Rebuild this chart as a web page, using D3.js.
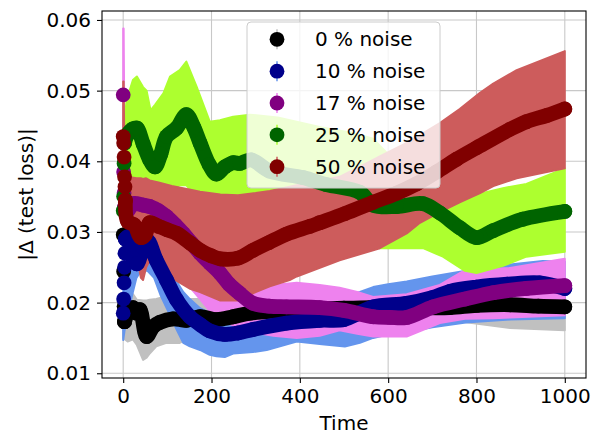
<!DOCTYPE html>
<meta charset="utf-8" />
<script src="https://cdn.jsdelivr.net/npm/d3@7"></script>
<style>
  body { margin: 0; background: #fff; }
  text { font-family: 'DejaVu Sans', sans-serif; fill: #000; }
</style>
<div id="chart"></div>
<script>
  // ---- data ----
  const ticksX = [0, 200, 400, 600, 800, 1000];
  const ticksY = [0.01, 0.02, 0.03, 0.04, 0.05, 0.06];
  const labels = ['0 % noise', '10 % noise', '17 % noise', '25 % noise', '50 % noise'];
  const markerColors = ['black', 'darkblue', 'purple', 'darkgreen', 'maroon'];
  const bandColors = ['silver', 'cornflowerblue', 'violet', 'greenyellow', 'indianred'];

  // first few noisy steps, drawn as single markers: [time, value]
  const dots0 = [[0, 0.0296], [1, 0.0244], [2, 0.0195], [3, 0.0173]];
  const dots1 = [[0, 0.0185], [1, 0.0205], [2, 0.0228], [3, 0.025], [4, 0.027], [5, 0.029]];
  const dots2 = [[0, 0.0494], [1, 0.0385], [2, 0.0355], [3, 0.0335]];
  const dots3 = [[0, 0.033], [1, 0.035], [2, 0.0397], [3, 0.0426]];
  const dots4 = [[0, 0.0435], [1, 0.0426], [2, 0.0406], [3, 0.0378], [4, 0.0364], [5, 0.0345]];

  // mean curves: [time, value]
  const mean0 = [[3, 0.0173], [10, 0.0185], [22, 0.0193], [31, 0.0185], [38, 0.019], [53, 0.0152], [68, 0.0166],
    [83, 0.0172], [113, 0.0177], [143, 0.0175], [174, 0.018], [211, 0.0176], [249, 0.018], [287, 0.0185],
    [350, 0.0188], [420, 0.019], [500, 0.0192], [560, 0.0193], [650, 0.0193], [740, 0.0193], [800, 0.0196],
    [876, 0.0197], [940, 0.0195], [1000, 0.0194]];
  const mean1 = [[5, 0.029], [10, 0.0293], [16, 0.028], [22, 0.0262], [31, 0.0255], [45, 0.0278], [55, 0.0288],
    [75, 0.026], [98, 0.0232], [121, 0.0204], [151, 0.018], [174, 0.0169], [196, 0.016], [230, 0.0155],
    [260, 0.0157], [294, 0.0162], [370, 0.0171], [445, 0.0175], [500, 0.0176], [530, 0.0184], [566, 0.0194],
    [642, 0.0199], [700, 0.0207], [740, 0.0216], [800, 0.0222], [870, 0.0226], [943, 0.0228], [1000, 0.022]];
  const mean2 = [[3, 0.0335], [10, 0.033], [22, 0.034], [45, 0.0338], [60, 0.0336], [80, 0.033], [98, 0.0322],
    [118, 0.031], [136, 0.0298], [155, 0.0284], [174, 0.027], [196, 0.0256], [219, 0.0242], [240, 0.0226],
    [264, 0.0213], [294, 0.0199], [330, 0.0195], [370, 0.0194], [445, 0.0193], [500, 0.0189], [566, 0.018],
    [604, 0.0179], [642, 0.0179], [702, 0.0194], [774, 0.0205], [838, 0.0214], [913, 0.022], [1000, 0.0224]];
  const mean3 = [[3, 0.0426], [10, 0.0438], [22, 0.0446], [31, 0.0447], [45, 0.0425], [60, 0.0402], [72, 0.0392],
    [85, 0.041], [98, 0.0435], [121, 0.0447], [143, 0.0466], [160, 0.0448], [174, 0.0426], [195, 0.0395],
    [211, 0.0382], [230, 0.0392], [249, 0.0398], [264, 0.0397], [290, 0.0402], [332, 0.0386], [407, 0.0377],
    [460, 0.0367], [536, 0.0356], [566, 0.0338], [619, 0.0336], [679, 0.034], [717, 0.0327], [762, 0.0306],
    [800, 0.0292], [838, 0.0302], [905, 0.0318], [1000, 0.0329]];
  const mean4 = [[5, 0.0345], [10, 0.0315], [25, 0.031], [40, 0.0292], [50, 0.0296], [60, 0.0313], [80, 0.0308],
    [100, 0.0303], [121, 0.0298], [150, 0.0285], [174, 0.0274], [200, 0.0266], [220, 0.0262], [260, 0.0263],
    [294, 0.0274], [330, 0.0285], [370, 0.0297], [423, 0.0308], [445, 0.0313], [502, 0.0326], [566, 0.0342],
    [620, 0.0355], [664, 0.0368], [710, 0.0385], [755, 0.0403], [800, 0.0419], [875, 0.0445], [913, 0.0456],
    [960, 0.0465], [1000, 0.0474]];

  // error bands: [time, low, high]
  const band0 = [[0, 0.015, 0.0205], [10, 0.0145, 0.021], [22, 0.0148, 0.0212], [31, 0.014, 0.0204],
    [45, 0.0119, 0.0203], [53, 0.0122, 0.0203], [60, 0.0128, 0.0204], [75, 0.0138, 0.0205], [98, 0.0143, 0.0209],
    [128, 0.0143, 0.0206], [150, 0.015, 0.0205], [200, 0.0155, 0.0205], [300, 0.016, 0.0208], [500, 0.0165, 0.021],
    [700, 0.0172, 0.0212], [755, 0.0174, 0.0213], [876, 0.0164, 0.0215], [1000, 0.0161, 0.0215]];
  const band1 = [[0, 0.0147, 0.021], [3, 0.016, 0.028], [10, 0.018, 0.031], [20, 0.021, 0.0295], [30, 0.0235, 0.029],
    [40, 0.0245, 0.0305], [55, 0.0245, 0.0312], [70, 0.0235, 0.029], [85, 0.021, 0.027], [100, 0.019, 0.0255],
    [121, 0.0162, 0.023], [136, 0.0143, 0.0215], [151, 0.0138, 0.0205], [174, 0.0133, 0.0192], [196, 0.0126, 0.0185],
    [211, 0.0124, 0.0183], [230, 0.0123, 0.0183], [249, 0.0128, 0.0185], [294, 0.013, 0.019], [325, 0.0133, 0.0193],
    [393, 0.0145, 0.0198], [450, 0.0141, 0.0202], [502, 0.0138, 0.0208], [536, 0.0143, 0.0215], [566, 0.015, 0.0222],
    [600, 0.0155, 0.0226], [642, 0.0158, 0.023], [700, 0.0165, 0.0237], [776, 0.0172, 0.0245], [876, 0.0176, 0.0254],
    [950, 0.0177, 0.0259], [1000, 0.0178, 0.0258]];
  const band2 = [[0, 0.035, 0.0588], [1, 0.035, 0.0588], [3, 0.026, 0.042], [10, 0.026, 0.038], [50, 0.028, 0.036],
    [100, 0.026, 0.0355], [115, 0.025, 0.0366], [128, 0.024, 0.0362], [140, 0.023, 0.034], [174, 0.0205, 0.031],
    [200, 0.0185, 0.029], [220, 0.0175, 0.027], [260, 0.0165, 0.0245], [294, 0.0158, 0.0232], [340, 0.0153, 0.0225],
    [393, 0.015, 0.0228], [445, 0.0153, 0.0225], [490, 0.0161, 0.0221], [530, 0.0156, 0.0215], [566, 0.0152, 0.0208],
    [642, 0.0152, 0.0212], [717, 0.0171, 0.0225], [774, 0.0177, 0.0246], [838, 0.0178, 0.0248], [876, 0.0179, 0.0249],
    [1000, 0.0182, 0.0262]];
  const band3 = [[0, 0.03, 0.04], [3, 0.031, 0.046], [8, 0.032, 0.0487], [22, 0.034, 0.0515], [31, 0.034, 0.052],
    [45, 0.034, 0.0505], [53, 0.034, 0.05], [62, 0.034, 0.0472], [72, 0.034, 0.048], [91, 0.035, 0.0496],
    [106, 0.036, 0.052], [128, 0.0366, 0.0529], [143, 0.0366, 0.0541], [166, 0.035, 0.0506], [196, 0.0325, 0.0456],
    [219, 0.0327, 0.0458], [249, 0.0327, 0.0463], [287, 0.0327, 0.0466], [350, 0.031, 0.0462], [400, 0.03, 0.0455],
    [450, 0.0295, 0.0448], [520, 0.029, 0.044], [566, 0.028, 0.0432], [581, 0.0277, 0.0422], [600, 0.0277, 0.041],
    [679, 0.0277, 0.04], [724, 0.0265, 0.0385], [774, 0.0245, 0.036], [800, 0.0242, 0.0353], [860, 0.0252, 0.0362],
    [913, 0.0265, 0.0368], [1000, 0.0272, 0.039]];
  const band4 = [[0, 0.03, 0.0513], [1, 0.03, 0.0513], [3, 0.029, 0.04], [10, 0.028, 0.0378], [30, 0.027, 0.0376],
    [40, 0.0235, 0.0376], [45, 0.0232, 0.0375], [52, 0.025, 0.0376], [60, 0.026, 0.0373], [80, 0.025, 0.037],
    [110, 0.0235, 0.0365], [150, 0.022, 0.036], [174, 0.0215, 0.0357], [220, 0.0203, 0.0353], [260, 0.0203, 0.0352],
    [300, 0.0215, 0.0355], [332, 0.0223, 0.0358], [377, 0.0232, 0.0364], [393, 0.0237, 0.0366], [490, 0.026, 0.0378],
    [566, 0.0274, 0.0402], [581, 0.0277, 0.0407], [642, 0.0298, 0.0426], [672, 0.0313, 0.0437], [717, 0.0328, 0.0454],
    [762, 0.0342, 0.0474], [808, 0.0355, 0.0497], [838, 0.0365, 0.051], [891, 0.0376, 0.0529], [1000, 0.039, 0.0556]];

  const dots = [dots0, dots1, dots2, dots3, dots4];
  const means = [mean0, mean1, mean2, mean3, mean4];
  const bands = [band0, band1, band2, band3, band4];

  // ---- layout ----
  const W = 594, H = 438;
  const plot = { left: 102, right: 586, top: 11, bottom: 378 };
  const markerR = 7.4;
  const fontSize = 20;

  const svg = d3.select('#chart').append('svg').attr('width', W).attr('height', H);

  const x = d3.scaleLinear().domain([-48, 1048]).range([plot.left, plot.right]);
  const y = d3.scaleLinear().domain([0.00933, 0.06127]).range([plot.bottom, plot.top]);

  svg.append('clipPath').attr('id', 'clip').append('rect')
    .attr('x', plot.left).attr('y', plot.top)
    .attr('width', plot.right - plot.left).attr('height', plot.bottom - plot.top);

  // grid
  const grid = svg.append('g');
  grid.selectAll('.gx').data(ticksX).join('line')
    .attr('x1', d => x(d)).attr('x2', d => x(d))
    .attr('y1', plot.top).attr('y2', plot.bottom)
    .attr('stroke', '#c8c8c8').attr('stroke-width', 1.1);
  grid.selectAll('.gy').data(ticksY).join('line')
    .attr('x1', plot.left).attr('x2', plot.right)
    .attr('y1', d => y(d)).attr('y2', d => y(d))
    .attr('stroke', '#c8c8c8').attr('stroke-width', 1.1);

  const data = svg.append('g').attr('clip-path', 'url(#clip)');

  // error bands first (all series), then the marker lines on top
  const area = d3.area().x(d => x(d[0])).y0(d => y(d[1])).y1(d => y(d[2]));
  bands.forEach((b, i) => {
    data.append('path').datum(b)
      .attr('d', area)
      .attr('fill', bandColors[i])
      .attr('stroke', bandColors[i])
      .attr('stroke-width', 2)
      .attr('stroke-linejoin', 'round');
  });

  const line = d3.line().x(d => x(d[0])).y(d => y(d[1])).curve(d3.curveCatmullRom);
  means.forEach((m, i) => {
    data.append('path').datum(m)
      .attr('d', line)
      .attr('fill', 'none')
      .attr('stroke', markerColors[i])
      .attr('stroke-width', markerR * 2)
      .attr('stroke-linecap', 'round')
      .attr('stroke-linejoin', 'round');
    data.selectAll(null).data(dots[i].concat(m)).join('circle')
      .attr('cx', d => x(d[0])).attr('cy', d => y(d[1]))
      .attr('r', markerR).attr('fill', markerColors[i]);
  });

  // spines
  svg.append('rect')
    .attr('x', plot.left).attr('y', plot.top)
    .attr('width', plot.right - plot.left).attr('height', plot.bottom - plot.top)
    .attr('fill', 'none').attr('stroke', 'black').attr('stroke-width', 1.1);

  // axes
  const xAxis = svg.append('g')
    .attr('transform', `translate(0, ${plot.bottom})`)
    .call(d3.axisBottom(x).tickValues(ticksX).tickFormat(d3.format('d')).tickSize(5).tickPadding(6).tickSizeOuter(0));
  const yAxis = svg.append('g')
    .attr('transform', `translate(${plot.left}, 0)`)
    .call(d3.axisLeft(y).tickValues(ticksY).tickFormat(d3.format('.2f')).tickSize(5).tickPadding(6).tickSizeOuter(0));
  [xAxis, yAxis].forEach(a => {
    a.select('.domain').remove();
    a.selectAll('.tick line').attr('stroke', 'black').attr('stroke-width', 1.1);
    a.selectAll('.tick text').style('font-size', fontSize + 'px').style('font-family', "'DejaVu Sans', sans-serif");
  });

  // axis labels
  svg.append('text')
    .attr('x', (plot.left + plot.right) / 2).attr('y', 430)
    .attr('text-anchor', 'middle')
    .style('font-size', fontSize + 'px')
    .text('Time');
  svg.append('text')
    .attr('transform', `translate(33, ${(plot.top + plot.bottom) / 2}) rotate(-90)`)
    .attr('text-anchor', 'middle')
    .style('font-size', fontSize + 'px')
    .text('|Δ (test loss)|');

  // legend
  const legend = svg.append('g');
  legend.append('rect')
    .attr('x', 247).attr('y', 22).attr('width', 193).attr('height', 166).attr('rx', 4)
    .attr('fill', 'white').attr('fill-opacity', 0.8)
    .attr('stroke', '#cccccc').attr('stroke-width', 1);
  labels.forEach((lab, i) => {
    const ry = 39.3 + i * 31.85;
    legend.append('line')
      .attr('x1', 277).attr('x2', 277).attr('y1', ry - 10).attr('y2', ry + 10)
      .attr('stroke', bandColors[i]).attr('stroke-width', 1.5);
    legend.append('circle').attr('cx', 277).attr('cy', ry).attr('r', markerR).attr('fill', markerColors[i]);
    legend.append('text').attr('x', 315).attr('y', ry).attr('dy', '0.35em')
      .style('font-size', fontSize + 'px').text(lab);
  });
</script>
